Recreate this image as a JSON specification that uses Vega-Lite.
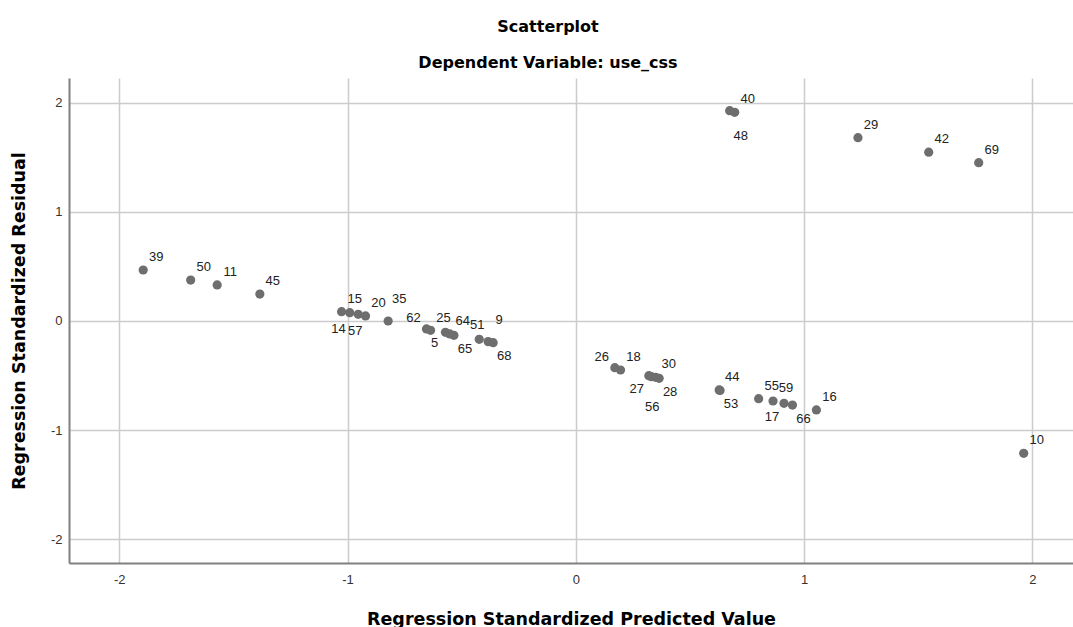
{
  "$schema": "https://vega.github.io/schema/vega-lite/v6.json",
  "width": 1004,
  "height": 485,
  "autosize": {"type": "none"},
  "padding": {"left": 69, "top": 78, "right": 0, "bottom": 64},
  "background": "#ffffff",
  "config": {
    "view": {"stroke": null},
    "font": "DejaVu Sans",
    "text": {"font": "Liberation Sans", "fontSize": 13, "color": "#222222", "baseline": "middle", "align": "center"}
  },
  "title": {
    "text": "Scatterplot",
    "subtitle": "Dependent Variable: use_css",
    "font": "DejaVu Sans",
    "fontSize": 16,
    "fontWeight": "bold",
    "color": "#000000",
    "subtitleFont": "DejaVu Sans",
    "subtitleFontSize": 16,
    "subtitleFontWeight": "bold",
    "subtitleColor": "#000000",
    "subtitlePadding": 20,
    "anchor": "middle",
    "dx": -23,
    "offset": 7
  },
  "data": {
    "values": [
      {"case": 39, "pred": -1.895, "resid": 0.467},
      {"case": 50, "pred": -1.687, "resid": 0.375},
      {"case": 11, "pred": -1.571, "resid": 0.330},
      {"case": 45, "pred": -1.384, "resid": 0.247},
      {"case": 14, "pred": -1.026, "resid": 0.085},
      {"case": 15, "pred": -0.990, "resid": 0.076},
      {"case": 57, "pred": -0.953, "resid": 0.061},
      {"case": 20, "pred": -0.921, "resid": 0.046},
      {"case": 35, "pred": -0.822, "resid": 0.000},
      {"case": 62, "pred": -0.654, "resid": -0.073},
      {"case": 5, "pred": -0.636, "resid": -0.085},
      {"case": 25, "pred": -0.571, "resid": -0.104},
      {"case": 64, "pred": -0.552, "resid": -0.119},
      {"case": 65, "pred": -0.534, "resid": -0.131},
      {"case": 51, "pred": -0.423, "resid": -0.168},
      {"case": 9, "pred": -0.384, "resid": -0.189},
      {"case": 68, "pred": -0.362, "resid": -0.199},
      {"case": 26, "pred": 0.171, "resid": -0.428},
      {"case": 18, "pred": 0.196, "resid": -0.449},
      {"case": 27, "pred": 0.320, "resid": -0.501},
      {"case": 56, "pred": 0.331, "resid": -0.510},
      {"case": 30, "pred": 0.350, "resid": -0.516},
      {"case": 28, "pred": 0.365, "resid": -0.525},
      {"case": 44, "pred": 0.628, "resid": -0.632},
      {"case": 53, "pred": 0.632, "resid": -0.636},
      {"case": 55, "pred": 0.801, "resid": -0.712},
      {"case": 59, "pred": 0.864, "resid": -0.733},
      {"case": 17, "pred": 0.912, "resid": -0.754},
      {"case": 66, "pred": 0.949, "resid": -0.770},
      {"case": 16, "pred": 1.054, "resid": -0.815},
      {"case": 48, "pred": 0.674, "resid": 1.927},
      {"case": 40, "pred": 0.696, "resid": 1.912},
      {"case": 29, "pred": 1.236, "resid": 1.679},
      {"case": 42, "pred": 1.546, "resid": 1.546},
      {"case": 69, "pred": 1.765, "resid": 1.450},
      {"case": 10, "pred": 1.962, "resid": -1.212}
    ]
  },
  "encoding": {
    "x": {
      "field": "pred",
      "type": "quantitative",
      "scale": {"domain": [-2.22, 2.178], "nice": false, "zero": false},
      "axis": {
        "title": "Regression Standardized Predicted Value",
        "values": [-2, -1, 0, 1, 2],
        "labelExpr": "'' + datum.value",
        "grid": true,
        "gridColor": "#cccccc",
        "gridWidth": 1.5,
        "domainColor": "#808080",
        "domainWidth": 2,
        "ticks": false,
        "tickSize": 0,
        "labelPadding": 10,
        "labelFont": "Liberation Sans",
        "labelFontSize": 13,
        "labelColor": "#333333",
        "titleFont": "DejaVu Sans",
        "titleFontSize": 17.5,
        "titleFontWeight": "bold",
        "titleColor": "#000000",
        "titlePadding": 24
      }
    },
    "y": {
      "field": "resid",
      "type": "quantitative",
      "scale": {"domain": [-2.217, 2.226], "nice": false, "zero": false},
      "axis": {
        "title": "Regression Standardized Residual",
        "values": [-2, -1, 0, 1, 2],
        "labelExpr": "'' + datum.value",
        "grid": true,
        "gridColor": "#cccccc",
        "gridWidth": 1.5,
        "domainColor": "#808080",
        "domainWidth": 2,
        "ticks": false,
        "tickSize": 0,
        "labelPadding": 7,
        "labelFont": "Liberation Sans",
        "labelFontSize": 13,
        "labelColor": "#333333",
        "titleFont": "DejaVu Sans",
        "titleFontSize": 17.5,
        "titleFontWeight": "bold",
        "titleColor": "#000000",
        "titlePadding": 22
      }
    }
  },
  "layer": [
    {
      "mark": {"type": "point", "filled": true, "size": 85, "color": "#6e6e6e", "opacity": 1}
    },
    {
      "transform": [{"filter": {"field": "case", "oneOf": [39, 50, 11, 45, 20, 64, 18, 30, 44, 55, 59, 16, 40, 29, 42, 69, 10]}}],
      "mark": {"type": "text", "dx": 13, "dy": -13},
      "encoding": {"text": {"field": "case"}}
    },
    {
      "transform": [{"filter": {"field": "case", "oneOf": [35, 9]}}],
      "mark": {"type": "text", "dx": 11, "dy": -21.5},
      "encoding": {"text": {"field": "case"}}
    },
    {
      "transform": [{"filter": {"field": "case", "oneOf": [25, 51]}}],
      "mark": {"type": "text", "dx": -2, "dy": -14},
      "encoding": {"text": {"field": "case"}}
    },
    {
      "transform": [{"filter": {"field": "case", "oneOf": [15]}}],
      "mark": {"type": "text", "dx": 5, "dy": -14},
      "encoding": {"text": {"field": "case"}}
    },
    {
      "transform": [{"filter": {"field": "case", "oneOf": [62, 26]}}],
      "mark": {"type": "text", "dx": -13, "dy": -11},
      "encoding": {"text": {"field": "case"}}
    },
    {
      "transform": [{"filter": {"field": "case", "oneOf": [65, 68, 28, 53, 66]}}],
      "mark": {"type": "text", "dx": 11, "dy": 13.5},
      "encoding": {"text": {"field": "case"}}
    },
    {
      "transform": [{"filter": {"field": "case", "oneOf": [27, 17]}}],
      "mark": {"type": "text", "dx": -12, "dy": 13.5},
      "encoding": {"text": {"field": "case"}}
    },
    {
      "transform": [{"filter": {"field": "case", "oneOf": [14, 57]}}],
      "mark": {"type": "text", "dx": -3, "dy": 17},
      "encoding": {"text": {"field": "case"}}
    },
    {
      "transform": [{"filter": {"field": "case", "oneOf": [5]}}],
      "mark": {"type": "text", "dx": 4, "dy": 12.5},
      "encoding": {"text": {"field": "case"}}
    },
    {
      "transform": [{"filter": {"field": "case", "oneOf": [56]}}],
      "mark": {"type": "text", "dx": 1, "dy": 30},
      "encoding": {"text": {"field": "case"}}
    },
    {
      "transform": [{"filter": {"field": "case", "oneOf": [48]}}],
      "mark": {"type": "text", "dx": 11, "dy": 25},
      "encoding": {"text": {"field": "case"}}
    }
  ]
}
